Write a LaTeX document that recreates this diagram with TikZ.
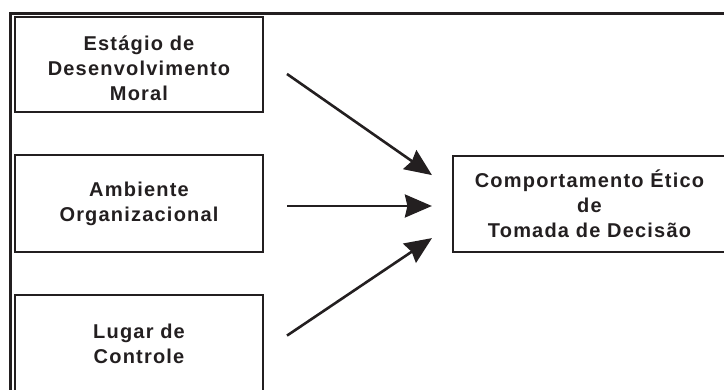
\documentclass[tikz,border=0pt]{standalone}
\usepackage{fontspec}
\setmainfont{Liberation Sans}[LetterSpace=6]
\usetikzlibrary{arrows.meta,calc}
\definecolor{ink}{RGB}{35,31,32}
\begin{document}
\begin{tikzpicture}[x=1pt,y=-1pt,
  every node/.style={text=ink,font=\fontsize{20}{25}\selectfont\bfseries},
  factor/.style={draw=ink,line width=2.2pt,minimum width=248pt,align=center,inner sep=0pt},
  arr/.style={draw=ink,line width=2.6pt,-{Stealth[length=27pt,width=23pt,inset=2.5pt]}}]
  \useasboundingbox (0,0) rectangle (724,389);
  \begin{scope}
    \clip (0,0) rectangle (724,389);
    % outer frame, running past the right and bottom edges
    \draw[ink,line width=2.2pt] (10.5,13.5) rectangle (740,400);
    % influencing factors
    \node[factor,minimum height=95pt] (moral) at (139,64.5)
      {\rule{0pt}{22pt}Estágio de\\Desenvolvimento\\Moral};
    \node[factor,minimum height=97pt] (amb) at (139,203.5)
      {Ambiente\\Organizacional};
    \node[factor,minimum height=97pt] (lugar) at (139,343.5)
      {Lugar de\\Controle};
    % outcome
    \node[factor,minimum width=273pt,minimum height=96pt] (etico) at (589.5,204)
      {Comportamento Ético\\de\\Tomada de Decisão};
    % influences
    \draw[arr,shorten <=27.9pt,shorten >=24.3pt]
      ($(moral.east)+(0,-6.5)$) -- ($(etico.west)+(0,-15)$);
    \draw[arr,shorten <=23pt,shorten >=20pt]
      ($(amb.east)+(0,2.5)$) -- ($(etico.west)+(0,2)$);
    \draw[arr,shorten <=27.6pt,shorten >=24pt]
      ($(lugar.east)+(0,7.5)$) -- ($(etico.west)+(0,20.7)$);
  \end{scope}
\end{tikzpicture}
\end{document}
